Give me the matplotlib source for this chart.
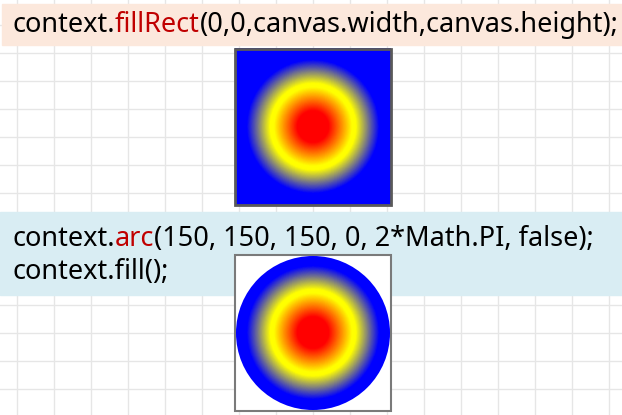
import matplotlib
matplotlib.use('Agg')
import matplotlib.pyplot as plt
import numpy as np
from matplotlib.colors import LinearSegmentedColormap
from matplotlib.patches import Rectangle, Circle

plt.rcParams['font.family'] = ['Noto Sans', 'DejaVu Sans']

# gradient colour stops (fraction of radius, colour)
stops = [(0.0, 'red'), (0.2, 'red'), (0.5, 'yellow'), (0.55, 'yellow'), (0.85, 'blue'), (1.0, 'blue')]
line1 = [("context.", 'black'), ("fillRect", '#c00000'), ("(0,0,canvas.width,canvas.height);", 'black')]
line2 = [("context.", 'black'), ("arc", '#c00000'), ("(150, 150, 150, 0, 2*Math.PI, false);", 'black')]
line3 = [("context.fill();", 'black')]

W, H = 622, 415
fig = plt.figure(figsize=(W / 100, H / 100), dpi=100)
ax = fig.add_axes([0, 0, 1, 1])
ax.set_xlim(0, W)
ax.set_ylim(H, 0)
ax.axis('off')

# spreadsheet grid
for gx in np.arange(17, W, 37):
    ax.axvline(gx, color='#e6e6e6', lw=1, zorder=0)
for gy in np.arange(25, H, 28):
    ax.axhline(gy, color='#e6e6e6', lw=1, zorder=0)

# code bands
ax.add_patch(Rectangle((2, 4), W - 2, 41, color='#fce8dc', zorder=1))
ax.add_patch(Rectangle((0, 212), W, 83, color='#d9edf3', zorder=1))


def write(x, y, parts):
    for s, c in parts:
        t = ax.text(x, y, s, color=c, fontsize=19.5, va='center', ha='left', zorder=3)
        fig.canvas.draw()
        x += t.get_window_extent().width

write(12, 25, line1)
write(12, 239, line2)
write(12, 272, line3)

cmap = LinearSegmentedColormap.from_list('rg', stops)
R = 78
yy, xx = np.mgrid[-R:R, -R:R] + 0.5
rad = np.clip(np.hypot(xx, yy) / R, 0, 1)

# square gradient
x0, y0 = 235, 49
ax.imshow(rad, cmap=cmap, vmin=0, vmax=1, extent=(x0, x0 + 2 * R, y0 + 2 * R, y0), zorder=2)
ax.add_patch(Rectangle((x0, y0), 2 * R, 2 * R, fill=False, ec='#5a5a5a', lw=2, zorder=4))

# circle gradient
x1, y1 = 235, 255
ax.add_patch(Rectangle((x1, y1), 2 * R, 2 * R, fc='white', ec='#7a7a7a', lw=1.5, zorder=2))
im = ax.imshow(rad, cmap=cmap, vmin=0, vmax=1, extent=(x1, x1 + 2 * R, y1 + 2 * R, y1), zorder=3)
clip = Circle((x1 + R, y1 + R), R - 1, transform=ax.transData)
im.set_clip_path(clip)

ax.set_xlim(0, W)
ax.set_ylim(H, 0)
fig.savefig('out.png', dpi=100)
